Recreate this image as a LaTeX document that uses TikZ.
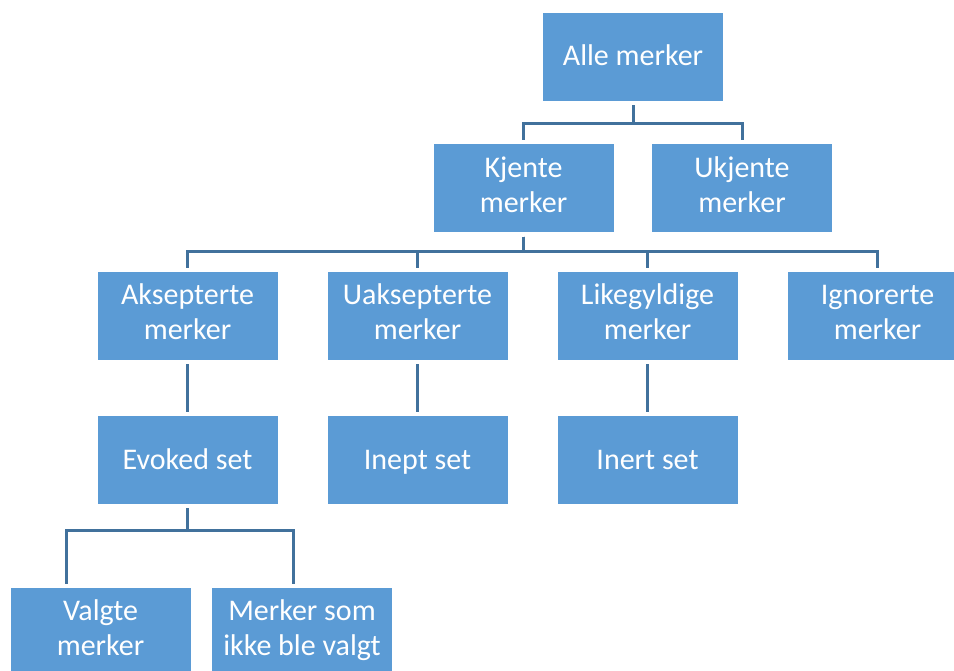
\documentclass[tikz,border=0pt]{standalone}
\usepackage{fontspec}
\setmainfont{Carlito}
\usepackage{xcolor}
\usepackage{tikz}
\usetikzlibrary{shapes.geometric, arrows}

\definecolor{boxblue}{HTML}{5B9BD5}
\definecolor{lineblue}{HTML}{41719C}
\newcommand{\boxstrut}{\rule[-8pt]{0pt}{34pt}}

\begin{document}
\begin{tikzpicture}[x=1pt, y=-1pt, node distance=230pt, auto]
    % Define the style for the nodes
    \tikzstyle{block} = [rectangle, fill=boxblue, text=white, align=center, minimum width=180pt, minimum height=88pt, inner sep=0pt, font=\fontsize{30}{35}\selectfont, execute at begin node=\boxstrut, execute at end node=\boxstrut]
    \tikzstyle{line} = [draw=lineblue, line width=3pt, shorten <=4pt, shorten >=4pt]

    \useasboundingbox (0,0) rectangle (954,671);

    % Place the nodes
    \node [block] (alle) at (633,57) {Alle merker};
    \node [block, node distance=131.5pt, below of=alle, xshift=-109.5pt] (kjente) {Kjente\\merker};
    \node [block, node distance=218.5pt, right of=kjente] (ukjente) {Ukjente\\merker};
    \node [block, node distance=127.5pt, below of=kjente, xshift=-336pt] (aksepterte) {Aksepterte\\merker};
    \node [block, right of=aksepterte] (uaksepterte) {Uaksepterte\\merker};
    \node [block, right of=uaksepterte] (likegyldige) {Likegyldige\\merker};
    \node [block, right of=likegyldige] (ignorerte) {Ignorerte\\merker};
    \node [block, node distance=144pt, below of=aksepterte] (evoked) {Evoked set};
    \node [block, node distance=144pt, below of=uaksepterte] (inept) {Inept set};
    \node [block, node distance=144pt, below of=likegyldige] (inert) {Inert set};
    \node [block, node distance=172pt, below of=evoked, xshift=-87pt] (valgte) {Valgte\\merker};
    \node [block, node distance=201.5pt, right of=valgte] (ikkevalgt) {Merker som\\ikke ble valgt};

    % Connect the nodes with paths
    \path [line] (alle.south) -- ++(0,22) -| (kjente.north);
    \path [line] (alle.south) -- ++(0,22) -| (ukjente.north);
    \path [line] (kjente.south) -- ++(0,19) -| (aksepterte.north);
    \path [line] (kjente.south) -- ++(0,19) -| (uaksepterte.north);
    \path [line] (kjente.south) -- ++(0,19) -| (likegyldige.north);
    \path [line] (kjente.south) -- ++(0,19) -| (ignorerte.north);
    \path [line] (aksepterte) -- (evoked);
    \path [line] (uaksepterte) -- (inept);
    \path [line] (likegyldige) -- (inert);
    \path [line] (evoked.south) -- ++(0,26) -| ([xshift=-34.5pt]valgte.north);
    \path [line] (evoked.south) -- ++(0,26) -| ([xshift=-9pt]ikkevalgt.north);
\end{tikzpicture}
\end{document}
